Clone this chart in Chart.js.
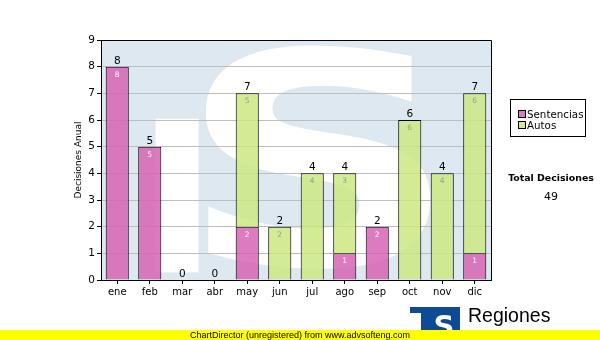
<!DOCTYPE html>
<html>
<head>
<meta charset="utf-8">
<script src="https://cdn.jsdelivr.net/npm/chart.js@4/dist/chart.umd.min.js"></script>
<style>
  html, body { margin: 0; padding: 0; background: #fff; }
  #wrap { width: 600px; height: 340px; position: relative; }
</style>
</head>
<body>
<div id="wrap"><canvas id="c" width="600" height="340"></canvas></div>
<script>
// Monthly decisions, stacked by type
const months = ['ene', 'feb', 'mar', 'abr', 'may', 'jun', 'jul', 'ago', 'sep', 'oct', 'nov', 'dic'];
const sentencias = [8, 5, 0, 0, 2, 0, 0, 1, 2, 0, 0, 1];
const autos = [0, 0, 0, 0, 5, 2, 4, 3, 0, 6, 4, 6];
const seriesNames = ['Sentencias', 'Autos'];
const yMax = 9;

const FONT = '"DejaVu Sans", Verdana, sans-serif';
const PINK = 'rgba(214,100,180,0.85)';
const GREEN = 'rgba(205,232,130,0.85)';

const totals = months.map((_, i) => sentencias[i] + autos[i]);
const grandTotal = totals.reduce((a, b) => a + b, 0);

const decor = {
  id: 'decor',
  beforeDraw(chart) {
    const { ctx, chartArea: a } = chart;
    ctx.save();
    ctx.fillStyle = '#fff';
    ctx.fillRect(0, 0, chart.width, chart.height);
    // plot background with faded emblem
    ctx.fillStyle = '#dee8f1';
    ctx.fillRect(a.left, a.top, a.right - a.left, a.bottom - a.top);
    ctx.beginPath();
    ctx.rect(a.left, a.top, a.right - a.left, a.bottom - a.top);
    ctx.clip();
    const W = a.right - a.left, H = a.bottom - a.top;
    ctx.fillStyle = '#fff';
    ctx.fillRect(a.left + W * 0.14, a.top + H * 0.328, W * 0.11, H * 0.64);
    ctx.font = 'bold 100px ' + FONT;
    const m = ctx.measureText('S');
    const gw = m.actualBoundingBoxLeft + m.actualBoundingBoxRight;
    const gh = m.actualBoundingBoxAscent + m.actualBoundingBoxDescent;
    const bx = a.left + W * 0.267, by = a.top + H * 0.013;
    const bw = W * 0.58, bh = H * 0.935;
    ctx.translate(bx, by);
    ctx.scale(bw / gw, bh / gh);
    ctx.textBaseline = 'alphabetic';
    ctx.fillText('S', m.actualBoundingBoxLeft, m.actualBoundingBoxAscent);
    ctx.restore();
  },
  afterDatasetsDraw(chart) {
    const { ctx, chartArea: a } = chart;
    const y = chart.scales.y;
    ctx.save();
    // segment values
    ctx.font = '7.5px ' + FONT;
    ctx.textAlign = 'center';
    ctx.textBaseline = 'alphabetic';
    chart.data.datasets.forEach((ds, di) => {
      const meta = chart.getDatasetMeta(di);
      meta.data.forEach((bar, i) => {
        const v = ds.data[i];
        if (!v) return;
        ctx.fillStyle = di === 0 ? '#fff4fb' : '#9a9a9a';
        ctx.fillText(String(v), bar.x, bar.y + 10);
      });
    });
    // stack totals
    ctx.font = '10.5px ' + FONT;
    ctx.fillStyle = '#000';
    const xs = chart.scales.x;
    totals.forEach((t, i) => {
      ctx.fillText(String(t), xs.getPixelForValue(i), y.getPixelForValue(t) - 3);
    });
    // frame top/right
    ctx.strokeStyle = '#000';
    ctx.lineWidth = 1;
    ctx.beginPath();
    ctx.moveTo(a.left, Math.round(a.top) + 0.5);
    ctx.lineTo(Math.round(a.right) + 0.5, Math.round(a.top) + 0.5);
    ctx.lineTo(Math.round(a.right) + 0.5, a.bottom);
    ctx.stroke();
    ctx.restore();
  },
  afterDraw(chart) {
    const { ctx, chartArea: a } = chart;
    ctx.save();
    // axis title
    ctx.font = '9px ' + FONT;
    ctx.fillStyle = '#000';
    ctx.textAlign = 'center';
    ctx.textBaseline = 'middle';
    ctx.translate(79, (a.top + a.bottom) / 2);
    ctx.rotate(-Math.PI / 2);
    ctx.fillText('Decisiones Anual', 0, 0);
    ctx.setTransform(1, 0, 0, 1, 0, 0);

    // legend
    ctx.strokeStyle = '#000';
    ctx.lineWidth = 1;
    ctx.strokeRect(510.5, 99.5, 75, 37);
    const colors = [PINK, GREEN];
    ctx.font = '10.3px ' + FONT;
    ctx.textAlign = 'left';
    ctx.textBaseline = 'alphabetic';
    seriesNames.forEach((n, i) => {
      const yy = 110 + i * 11;
      ctx.fillStyle = '#fff';
      ctx.fillRect(518, yy, 7, 7);
      ctx.fillStyle = colors[i];
      ctx.fillRect(518, yy, 7, 7);
      ctx.strokeRect(518.5, yy + 0.5, 7, 7);
      ctx.fillStyle = '#000';
      ctx.fillText(n, 527, yy + 7.5);
    });

    // grand total
    ctx.textAlign = 'center';
    ctx.font = 'bold 9.4px ' + FONT;
    ctx.fillText('Total Decisiones', 551, 181);
    ctx.font = '11px ' + FONT;
    ctx.fillText(String(grandTotal), 551, 200);

    // emblem
    ctx.fillStyle = '#0d4b97';
    ctx.fillRect(410, 307, 50, 33);
    ctx.fillStyle = '#fff';
    ctx.fillRect(410, 313, 11, 27);
    ctx.font = 'bold 29px ' + FONT;
    ctx.textAlign = 'center';
    ctx.fillText('S', 444, 336);
    ctx.fillStyle = '#000';
    ctx.textAlign = 'left';
    ctx.font = '19.5px "Liberation Sans", Arial, sans-serif';
    ctx.fillText('Regiones', 468, 322);
    ctx.font = '9px "Liberation Sans", Arial, sans-serif';
    ctx.fillText('Tribunal Supremo de Justicia', 467, 338);

    // footer band
    ctx.fillStyle = '#ffff00';
    ctx.fillRect(0, 330, 600, 10);
    ctx.fillStyle = '#000';
    ctx.font = '9px "Liberation Sans", Arial, sans-serif';
    ctx.textAlign = 'center';
    ctx.fillText('ChartDirector (unregistered) from www.advsofteng.com', 300, 338);
    ctx.restore();
  }
};

new Chart(document.getElementById('c'), {
  type: 'bar',
  data: {
    labels: months,
    datasets: [
      { label: seriesNames[0], data: sentencias, backgroundColor: PINK },
      { label: seriesNames[1], data: autos, backgroundColor: GREEN }
    ]
  },
  options: {
    responsive: false,
    animation: false,
    events: [],
    layout: { padding: { top: 40, right: 109, bottom: 40, left: 0 } },
    datasets: {
      bar: {
        barPercentage: 0.71,
        categoryPercentage: 1,
        borderColor: '#000',
        borderWidth: c => (c.raw ? 1 : 0),
        borderSkipped: 'start'
      }
    },
    plugins: { legend: { display: false }, tooltip: { enabled: false } },
    scales: {
      x: {
        stacked: true,
        afterFit: s => { s.height = 20; },
        grid: { display: true, offset: false, drawOnChartArea: false, tickLength: 4, tickColor: '#000' },
        border: { color: '#000', width: 1 },
        ticks: { color: '#000', font: { family: FONT, size: 10 }, padding: 2, maxRotation: 0 }
      },
      y: {
        stacked: true,
        min: 0,
        max: yMax,
        afterFit: s => { s.width = 101; },
        grid: { color: '#bdbdbd', tickLength: 4, tickColor: '#000' },
        border: { color: '#000', width: 1 },
        ticks: { stepSize: 1, color: '#000', font: { family: FONT, size: 10.5 }, padding: 2 }
      }
    }
  },
  plugins: [decor]
});
</script>
</body>
</html>
